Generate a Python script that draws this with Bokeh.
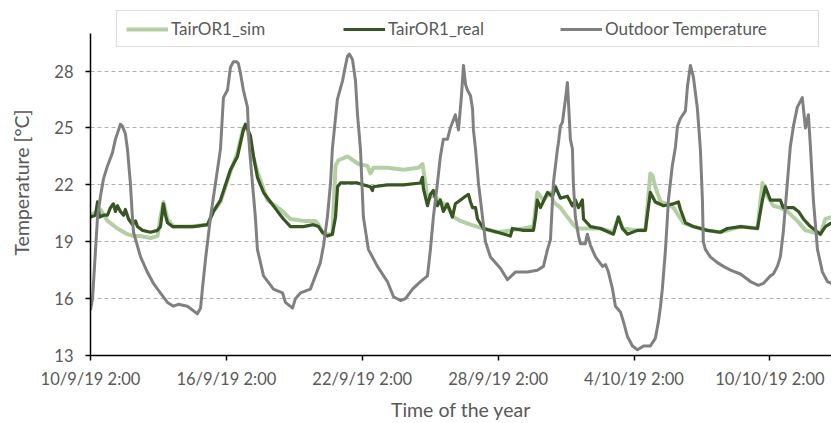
from bokeh.plotting import figure
from bokeh.models import Range1d, FixedTicker, Legend, LegendItem, BoxAnnotation
from bokeh.embed import file_html
from bokeh.resources import INLINE

# ---- data (x = days since 10/9/19 2:00, y = temperature in °C) ----
outdoor_days = [0, 0.09, 0.31, 0.44, 0.57, 0.75, 0.97, 1.10, 1.24, 1.32, 1.41, 1.54, 1.63, 1.76, 1.85, 1.90,
                2.21, 2.51, 2.78, 2.96, 3.40, 3.66, 3.88, 4.28, 4.50, 4.72, 4.86, 4.94, 5.08, 5.30, 5.52,
                5.74, 5.87, 6.05, 6.18, 6.31, 6.45, 6.53, 6.62, 6.75, 6.93, 6.98, 7.02, 7.28, 7.37, 7.64,
                8.08, 8.48, 8.61, 8.92, 9.05, 9.27, 9.71, 9.93, 10.15, 10.29, 10.46, 10.60, 10.68, 10.90,
                11.13, 11.26, 11.35, 11.43, 11.57, 11.70, 11.79, 11.92, 12.05, 12.27, 12.67, 13.11, 13.38,
                13.69, 13.91, 14.22, 14.57, 14.88, 15.01, 15.14, 15.32, 15.45, 15.58, 15.76, 15.89, 16.11,
                16.25, 16.38, 16.47, 16.56, 16.64, 16.78, 16.87, 16.91, 17.00, 17.13, 17.31, 17.44, 17.66,
                18.10, 18.41, 18.76, 19.29, 19.73, 20.00, 20.18, 20.31, 20.44, 20.62, 20.66, 20.75, 20.84,
                20.97, 21.06, 21.19, 21.28, 21.32, 21.41, 21.55, 21.63, 21.85, 21.94, 22.08, 22.30, 22.61,
                22.74, 22.87, 23.05, 23.18, 23.40, 23.53, 23.71, 23.93, 24.15, 24.42, 24.72, 24.94, 25.08,
                25.17, 25.25, 25.39, 25.52, 25.69, 25.83, 25.92, 26.05, 26.27, 26.36, 26.49, 26.62, 26.80,
                26.93, 27.02, 27.06, 27.15, 27.37, 27.68, 27.95, 28.26, 28.70, 29.14, 29.49, 29.71, 30.02,
                30.15, 30.33, 30.46, 30.59, 30.77, 30.90, 31.04, 31.21, 31.43, 31.57, 31.70, 31.79, 31.92,
                32.10, 32.32, 32.54, 32.72]
outdoor_temp = [15.4, 16.0, 20.3, 21.4, 22.3, 23.0, 23.7, 24.4, 24.9, 25.2, 25.1, 24.7, 23.9, 22.1, 20.3, 19.5,
                18.2, 17.4, 16.8, 16.5, 15.8, 15.6, 15.7, 15.6, 15.4, 15.2, 15.5, 16.5, 18.1, 20.3, 22.1,
                23.9, 26.6, 27.0, 28.2, 28.5, 28.5, 28.4, 27.9, 27.0, 26.1, 24.7, 23.9, 20.3, 18.6, 17.2,
                16.5, 16.3, 15.8, 15.5, 16.0, 16.3, 16.5, 17.2, 17.9, 18.8, 20.3, 22.1, 23.9, 26.5,
                27.5, 28.3, 28.8, 28.9, 28.6, 27.5, 25.7, 23.9, 20.3, 18.6, 17.7, 16.9, 16.1,
                15.9, 16.0, 16.5, 16.9, 17.2, 18.6, 20.3, 22.1, 23.5, 24.4, 24.4, 25.0, 25.7,
                24.9, 26.7, 28.3, 27.3, 27.0, 26.7, 26.0, 24.9, 23.9, 22.1, 20.3, 19.0, 18.2,
                17.6, 17.0, 17.4, 17.4, 17.5, 17.7, 18.6, 19.1, 22.1, 23.9, 24.2, 25.1, 25.3,
                26.5, 27.4, 24.4, 23.9, 22.1, 20.3, 19.3, 18.9, 18.9, 19.4, 18.8, 18.2, 17.7,
                17.8, 17.4, 16.5, 15.6, 15.3, 14.8, 14.0, 13.5, 13.3, 13.5, 13.5, 13.9, 14.8,
                15.6, 16.5, 18.6, 21.2, 23.0, 24.0, 25.1, 25.5, 25.9, 27.2, 28.3, 27.7, 26.0,
                23.9, 21.2, 19.0, 18.6, 18.2, 17.9, 17.7, 17.5, 17.3, 16.9, 16.7, 16.8, 17.2,
                17.3, 17.7, 18.2, 19.5, 22.1, 24.0, 25.1, 26.1, 26.6, 25.0, 25.7, 24.0, 21.2,
                18.6, 17.4, 16.9, 16.8]

real_days = [0.0, 0.22, 0.31, 0.40, 0.57, 0.75, 0.88, 1.01, 1.10, 1.19, 1.32, 1.46, 1.54, 1.68, 1.85, 1.99,
             2.07, 2.30, 2.65, 2.96, 3.09, 3.22, 3.31, 3.40, 3.62, 3.97, 4.55, 5.17, 5.43, 5.74, 6.18,
             6.49, 6.75, 6.84, 7.06, 7.20, 7.37, 7.64, 7.95, 8.26, 8.52, 8.83, 9.40, 9.84, 10.07, 10.24,
             10.46, 10.68, 10.82, 10.91, 11.04, 11.79, 12.05, 12.36, 12.45, 12.49, 13.11, 13.82, 14.57,
             14.66, 14.70, 14.88, 15.01, 15.14, 15.32, 15.45, 15.58, 15.76, 15.98, 16.11, 16.34, 16.56,
             16.69, 16.78, 16.87, 17.00, 17.09, 17.35, 17.97, 18.54, 18.63, 19.12, 19.56, 19.65, 19.73,
             19.87, 20.18, 20.40, 20.53, 20.75, 21.06, 21.28, 21.41, 21.55, 21.72, 21.77, 22.08, 22.52,
             23.09, 23.31, 23.49, 23.71, 24.15, 24.50, 24.72, 24.94, 25.30, 25.74, 25.96, 26.05, 26.27,
             26.62, 27.24, 27.81, 28.12, 28.70, 29.45, 29.67, 29.80, 30.02, 30.46, 30.59, 31.04, 31.26,
             31.48, 31.79, 32.23, 32.45, 32.72]
real_temp = [20.3, 20.4, 21.1, 20.3, 20.4, 20.4, 20.8, 21.0, 20.6, 20.9, 20.6, 20.4, 20.7, 20.2, 19.9, 20.1,
             19.8, 19.6, 19.5, 19.6, 19.8, 21.0, 20.4, 20.0, 19.8, 19.8, 19.8, 19.9, 20.6, 21.2, 22.8,
             23.5, 24.9, 25.2, 24.6, 23.5, 22.4, 21.6, 21.1, 20.6, 20.2, 19.8, 19.8, 19.9, 19.8, 19.5,
             19.3, 19.4, 20.3, 21.9, 22.1, 22.1, 22.0, 21.9, 21.7, 21.9, 22.0, 22.0, 22.1,
             22.4, 21.8, 20.9, 21.5, 21.7, 20.9, 21.2, 20.6, 21.0, 20.3, 21.0, 21.2, 21.4,
             21.5, 21.1, 20.8, 20.8, 20.2, 19.7, 19.5, 19.3, 19.7, 19.6, 19.6, 20.3, 21.2,
             20.8, 21.6, 21.4, 21.9, 21.3, 21.4, 20.9, 21.2, 20.8, 21.2, 20.2, 19.8, 19.7,
             19.4, 20.3, 19.7, 19.4, 19.6, 19.6, 21.6, 21.1, 20.9, 21.0, 21.1, 20.7, 20.0,
             19.8, 19.6, 19.5, 19.7, 19.8, 19.7, 21.2, 21.9, 21.2, 21.2, 20.8, 20.8, 20.6,
             20.2, 19.8, 19.4, 19.8, 20.0]

sim_days = [0.0, 0.44, 0.75, 1.19, 1.63, 1.90, 2.21, 2.65, 2.96, 3.09, 3.22, 3.40, 3.66, 4.41, 5.17, 5.43,
            5.74, 6.18, 6.49, 6.75, 6.93, 7.15, 7.37, 7.81, 8.39, 8.83, 9.40, 9.93, 10.07, 10.29, 10.68,
            10.82, 10.95, 11.35, 11.83, 12.23, 12.36, 12.49, 13.11, 13.82, 14.48, 14.66, 14.79, 14.88,
            15.14, 15.45, 15.76, 16.03, 16.34, 16.78, 17.35, 17.97, 18.54, 19.12, 19.56, 19.73, 20.00,
            20.31, 20.44, 20.75, 21.06, 21.32, 21.50, 21.77, 22.52, 23.09, 23.31, 23.49, 24.15, 24.50,
            24.72, 24.81, 24.94, 25.17, 25.48, 25.74, 26.18, 26.62, 27.24, 27.81, 28.70, 29.45, 29.67,
            29.89, 30.15, 30.46, 30.77, 31.21, 31.57, 31.92, 32.23, 32.45, 32.72]
sim_temp = [20.4, 20.7, 20.1, 19.7, 19.4, 19.3, 19.3, 19.2, 19.3, 20.3, 21.1, 20.2, 19.8, 19.8, 19.9, 20.6,
            21.1, 22.7, 23.7, 25.0, 24.9, 23.6, 22.7, 21.2, 20.7, 20.2, 20.1, 20.1, 19.9, 19.4, 19.4,
            23.0, 23.3, 23.5, 23.1, 23.0, 22.6, 22.9, 22.9, 22.8, 22.9, 23.1, 22.1, 21.2,
            21.5, 21.1, 20.9, 20.3, 20.1, 19.9, 19.7, 19.5, 19.6, 19.7, 19.8, 21.6, 21.2,
            21.6, 21.1, 20.8, 20.3, 19.9, 19.7, 19.7, 19.7, 19.5, 20.3, 19.7, 19.6, 19.6,
            22.6, 22.5, 21.9, 21.1, 21.0, 20.8, 20.0, 19.8, 19.6, 19.5, 19.8, 19.7, 22.1,
            21.4, 20.9, 20.8, 20.6, 20.1, 19.6, 19.5, 19.4, 20.2, 20.3]

x_tick_days = [0, 6, 12, 18, 24, 30]
x_tick_labels = ["10/9/19 2:00", "16/9/19 2:00", "22/9/19 2:00", "28/9/19 2:00", "4/10/19 2:00", "10/10/19 2:00"]
y_ticks = [13, 16, 19, 22, 25, 28]
y_axis_bounds = (13, 30)
series_names = ["TairOR1_sim", "TairOR1_real", "Outdoor Temperature"]

FONT = "Lato"
TXT = "#595959"

p = figure(width=831, height=423, output_backend="svg", toolbar_location=None,
           x_range=Range1d(0, 32.72), y_range=Range1d(13, 31.25),
           min_border_left=90, min_border_right=0, min_border_top=9, min_border_bottom=66,
           outline_line_color=None, background_fill_color="white", border_fill_color="white")

r_sim = p.line(sim_days, sim_temp, line_color="#b5cfa5", line_width=4, line_join="round")
r_real = p.line(real_days, real_temp, line_color="#375623", line_width=3.2, line_join="round")
r_out = p.line(outdoor_days, outdoor_temp, line_color="#808080", line_width=3, line_join="round")

# axes
for ax in (p.xaxis[0], p.yaxis[0]):
    ax.axis_line_color = "black"
    ax.axis_line_width = 1.5
    ax.major_tick_line_color = "black"
    ax.major_tick_line_width = 1.5
    ax.major_tick_in = 0
    ax.major_tick_out = 5
    ax.minor_tick_line_color = None
    ax.major_label_text_font = FONT
    ax.major_label_text_font_size = "16.5px"
    ax.major_label_text_color = TXT
    ax.axis_label_text_font = FONT
    ax.axis_label_text_font_size = "19.5px"
    ax.axis_label_text_color = TXT
    ax.axis_label_text_font_style = "normal"

p.xaxis.ticker = FixedTicker(ticks=x_tick_days)
p.xaxis.major_label_overrides = dict(zip(x_tick_days, x_tick_labels))
p.xaxis.axis_label = "Time of the year"
p.xaxis.major_label_standoff = 8
p.xaxis.axis_label_standoff = 6

p.yaxis.ticker = FixedTicker(ticks=y_ticks)
p.yaxis.bounds = y_axis_bounds
p.yaxis.axis_label = "Temperature [°C]"
p.yaxis.major_label_standoff = 12
p.yaxis.axis_label_standoff = 18

p.xgrid.visible = False
p.ygrid.ticker = FixedTicker(ticks=y_ticks)
p.ygrid.grid_line_color = "#b0b0b0"
p.ygrid.grid_line_dash = "4 3"
p.ygrid.grid_line_width = 1

# legend frame (canvas pixels)
legend_box = BoxAnnotation(left=116, right=818, top=10, bottom=46,
                           left_units="canvas", right_units="canvas",
                           top_units="canvas", bottom_units="canvas",
                           fill_color="white", fill_alpha=1,
                           line_color="#8c8c8c", line_width=1.2, level="annotation")
p.add_layout(legend_box)

legend = Legend(items=[LegendItem(label=series_names[0], renderers=[r_sim]),
                       LegendItem(label=series_names[1], renderers=[r_real]),
                       LegendItem(label=series_names[2], renderers=[r_out])],
                location=(36, 316), orientation="horizontal",
                glyph_width=42, glyph_height=20, label_standoff=3, label_width=170, label_height=20,
                spacing=2, padding=8, margin=0,
                border_line_color=None, background_fill_alpha=0,
                label_text_font=FONT, label_text_font_size="17px", label_text_color=TXT)
p.add_layout(legend, "center")

open("out.html", "w").write(file_html(p, INLINE))
